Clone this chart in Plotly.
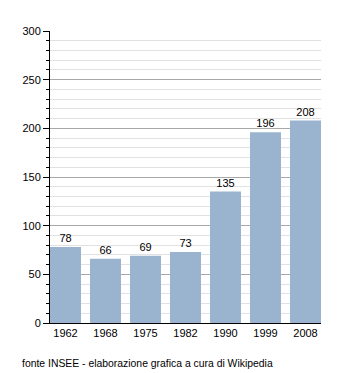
import plotly.graph_objects as go

years = ["1962", "1968", "1975", "1982", "1990", "1999", "2008"]
population = [78, 66, 69, 73, 135, 196, 208]
y_ticks = [0, 50, 100, 150, 200, 250, 300]
source_note = "fonte INSEE - elaborazione grafica a cura di Wikipedia"

font_family = "Liberation Sans, Arial, sans-serif"
bar_gap = 0.225

fig = go.Figure(
    go.Bar(
        x=years,
        y=population,
        marker=dict(color="#9ab4cf", line=dict(width=0)),
        text=[str(v) for v in population],
        textposition="outside",
        textfont=dict(family=font_family, size=11, color="#000000"),
        cliponaxis=False,
        hoverinfo="skip",
    )
)

fig.update_layout(
    width=350,
    height=373,
    margin=dict(l=50, r=29, t=31, b=50),
    paper_bgcolor="white",
    plot_bgcolor="white",
    bargap=bar_gap,
    showlegend=False,
    font=dict(family=font_family, size=11, color="#000000"),
    annotations=[
        dict(
            text=source_note,
            xref="paper", yref="paper",
            x=-30 / 271, y=-40 / 292,
            xanchor="left", yanchor="middle",
            showarrow=False,
            font=dict(family=font_family, size=10.4, color="#000000"),
        )
    ],
)

fig.update_xaxes(
    type="category",
    range=[-0.5 + bar_gap / 2, len(years) - 0.5 - bar_gap / 2],
    showline=True,
    linecolor="#000000",
    linewidth=1,
    ticks="",
    showgrid=False,
    tickfont=dict(family=font_family, size=11),
    fixedrange=True,
)

fig.update_yaxes(
    range=[0, 300],
    tickvals=y_ticks,
    showline=True,
    linecolor="#000000",
    linewidth=1,
    ticks="outside",
    ticklen=6,
    tickcolor="#000000",
    showgrid=True,
    gridcolor="#a8a8a8",
    gridwidth=1,
    zeroline=False,
    tickfont=dict(family=font_family, size=11),
    minor=dict(
        dtick=10,
        ticks="outside",
        ticklen=3,
        tickcolor="#000000",
        showgrid=True,
        gridcolor="#e2e2e2",
        gridwidth=1,
    ),
    fixedrange=True,
)

fig.write_html("out.html")
